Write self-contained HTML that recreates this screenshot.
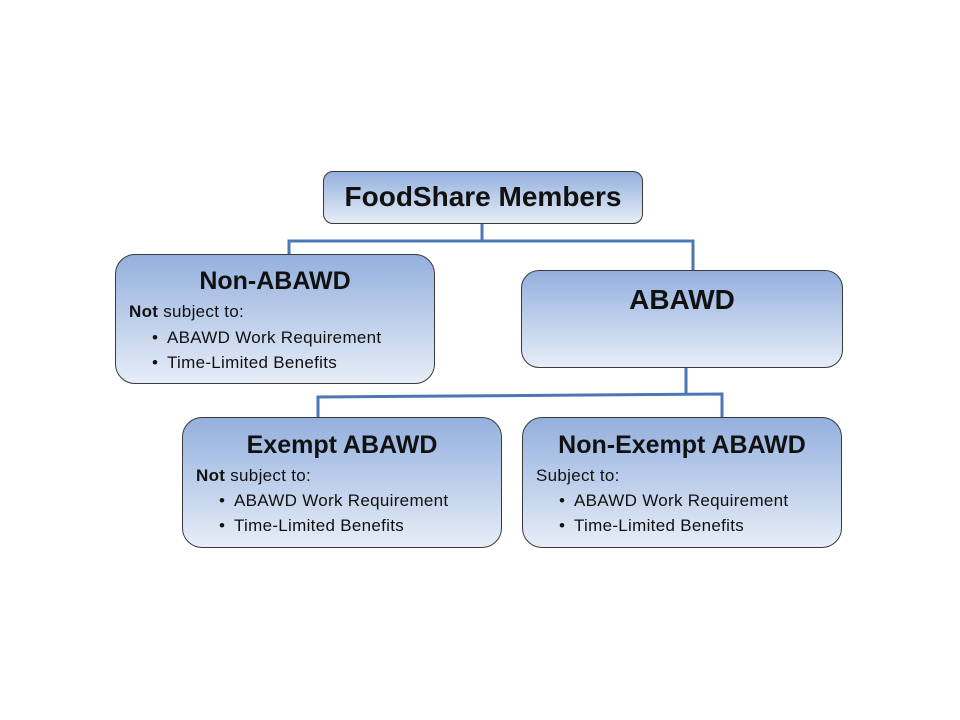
<!DOCTYPE html>
<html><head><style>
body{margin:0;width:960px;height:720px;background:#fff;position:relative;overflow:hidden;font-family:"Liberation Sans",Arial,sans-serif;color:#111}
.b{position:absolute;box-sizing:border-box;border:1px solid #3a3a3a;background:linear-gradient(#94b0de,#e6edf7);}
.t{position:absolute;left:0;right:0;text-align:center;font-weight:bold}
.l{position:absolute;font-size:17px;white-space:nowrap;letter-spacing:0.3px}
.l span{position:absolute;left:-15px}
</style></head><body>
<svg width="960" height="720" style="position:absolute;left:0;top:0">
<g stroke="#4a78b5" stroke-width="3" fill="none">
<polyline points="482,224 482,241"/>
<polyline points="289,254 289,241 693,241 693,270"/>
<polyline points="686,368 686,395"/>
<polyline points="318,417 318,397 722,394 722,417"/>
</g></svg>
<div class="b" style="left:323px;top:171px;width:320px;height:53px;border-radius:10px"><div class="t" style="top:9px;font-size:28px">FoodShare Members</div></div>
<div class="b" style="left:115px;top:254px;width:320px;height:130px;border-radius:20px">
<div class="t" style="top:12px;font-size:25px">Non-ABAWD</div>
<div class="l" style="left:13px;top:47px"><b>Not</b> subject to:</div>
<div class="l" style="left:51px;top:73px"><span>•</span>ABAWD Work Requirement</div>
<div class="l" style="left:51px;top:98px"><span>•</span>Time-Limited Benefits</div>
</div>
<div class="b" style="left:521px;top:270px;width:322px;height:98px;border-radius:18px"><div class="t" style="top:13px;font-size:28px">ABAWD</div></div>
<div class="b" style="left:182px;top:417px;width:320px;height:131px;border-radius:20px">
<div class="t" style="top:13px;font-size:25px">Exempt ABAWD</div>
<div class="l" style="left:13px;top:48px"><b>Not</b> subject to:</div>
<div class="l" style="left:51px;top:73px"><span>•</span>ABAWD Work Requirement</div>
<div class="l" style="left:51px;top:98px"><span>•</span>Time-Limited Benefits</div>
</div>
<div class="b" style="left:522px;top:417px;width:320px;height:131px;border-radius:20px">
<div class="t" style="top:13px;font-size:25px">Non-Exempt ABAWD</div>
<div class="l" style="left:13px;top:48px">Subject to:</div>
<div class="l" style="left:51px;top:73px"><span>•</span>ABAWD Work Requirement</div>
<div class="l" style="left:51px;top:98px"><span>•</span>Time-Limited Benefits</div>
</div>
</body></html>
